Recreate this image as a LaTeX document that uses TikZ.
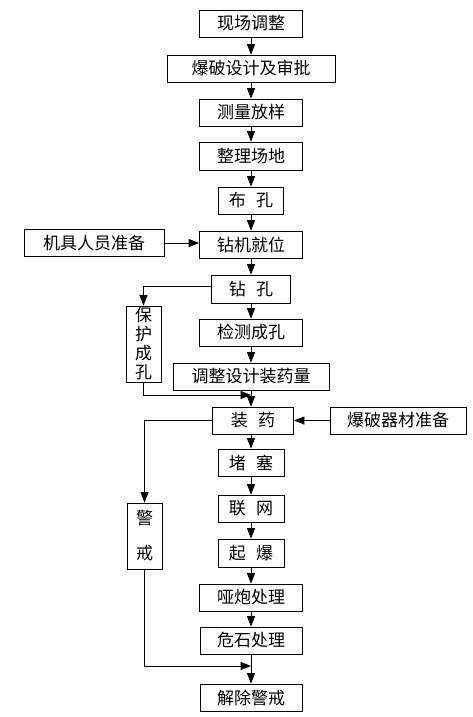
\documentclass[tikz,border=0pt]{standalone}
\usepackage{fontspec}
\newfontfamily\cjk{Noto Sans CJK SC}
\usetikzlibrary{arrows.meta}
\tikzset{
stage/.style={draw,line width=0.8pt,minimum height=27pt,inner sep=0pt,font=\cjk\fontsize{17}{19}\selectfont},
vbox/.style={stage,align=center},
link/.style={line width=0.8pt},
flowarrow/.style={-{Triangle[length=10.5pt,width=8pt]},line width=0.8pt}
}
\begin{document}
\begin{tikzpicture}[x=1pt,y=-1pt]
\useasboundingbox (0,0) rectangle (473,717);
\node[stage,minimum width=103pt] (site) at (251,23.5) {现场调整};
\node[stage,minimum width=168pt] (design) at (251,68.5) {爆破设计及审批};
\node[stage,minimum width=103pt] (survey) at (251,112.5) {测量放样};
\node[stage,minimum width=103pt,minimum height=28pt] (ground) at (251,156) {整理场地};
\node[stage,minimum width=65pt] (layout) at (251,200.5) {布\hspace{0.6em}孔};
\node[stage,minimum width=103pt] (rig) at (251,244.5) {钻机就位};
\node[stage,minimum width=140pt] (crew) at (94,243) {机具人员准备};
\node[stage,minimum width=79pt,minimum height=28pt] (drill) at (251,289) {钻\hspace{0.6em}孔};
\node[vbox,minimum width=35pt,minimum height=76pt] (guardhole) at (143.5,344) {保\\护\\成\\孔};
\node[stage,minimum width=103pt] (check) at (251,332.5) {检测成孔};
\node[stage,minimum width=156pt] (adjust) at (251,376.5) {调整设计装药量};
\node[stage,minimum width=81pt] (charge) at (253,420.5) {装\hspace{0.6em}药};
\node[stage,minimum width=136pt] (supply) at (398,420.5) {爆破器材准备};
\node[stage,minimum width=66pt] (stem) at (251,462.5) {堵\hspace{0.6em}塞};
\node[stage,minimum width=66pt] (net) at (251,508.5) {联\hspace{0.6em}网};
\node[stage,minimum width=66pt,minimum height=28pt] (fire) at (251,553) {起\hspace{0.6em}爆};
\node[stage,minimum width=103pt] (misfire) at (251,597.5) {哑炮处理};
\node[stage,minimum width=102pt] (rock) at (251,640.5) {危石处理};
\node[stage,minimum width=102pt] (clear) at (251,697.5) {解除警戒};
\node[vbox,minimum width=35pt,minimum height=66pt] (watch) at (144.5,536) {警\\[16pt]戒};
\coordinate (holein) at (251,395);
\coordinate (watchin) at (251,666);
\draw[flowarrow] (site) -- (design);
\draw[flowarrow] (design) -- (survey);
\draw[flowarrow] (survey) -- (ground);
\draw[flowarrow] (ground) -- (layout);
\draw[flowarrow] (layout) -- (rig);
\draw[flowarrow] (rig) -- (drill);
\draw[flowarrow] (drill) -- (check);
\draw[flowarrow] (check) -- (adjust);
\draw[flowarrow] (adjust.south) -- (adjust.south |- charge.north);
\draw[flowarrow] (charge.south -| stem) -- (stem);
\draw[flowarrow] (stem) -- (net);
\draw[flowarrow] (net) -- (fire);
\draw[flowarrow] (fire) -- (misfire);
\draw[flowarrow] (misfire) -- (rock);
\draw[flowarrow] (rock) -- (clear);
\draw[flowarrow] (crew.east) -- (crew.east -| rig.west);
\draw[flowarrow] (supply) -- (charge);
\draw[flowarrow] ([yshift=3pt]drill.west) -| (guardhole.north);
\draw[flowarrow] (guardhole.south) |- (holein);
\draw[flowarrow] (charge.west) -| (watch.north);
\draw[flowarrow] (watch.south) |- (watchin);
\end{tikzpicture}
\end{document}
